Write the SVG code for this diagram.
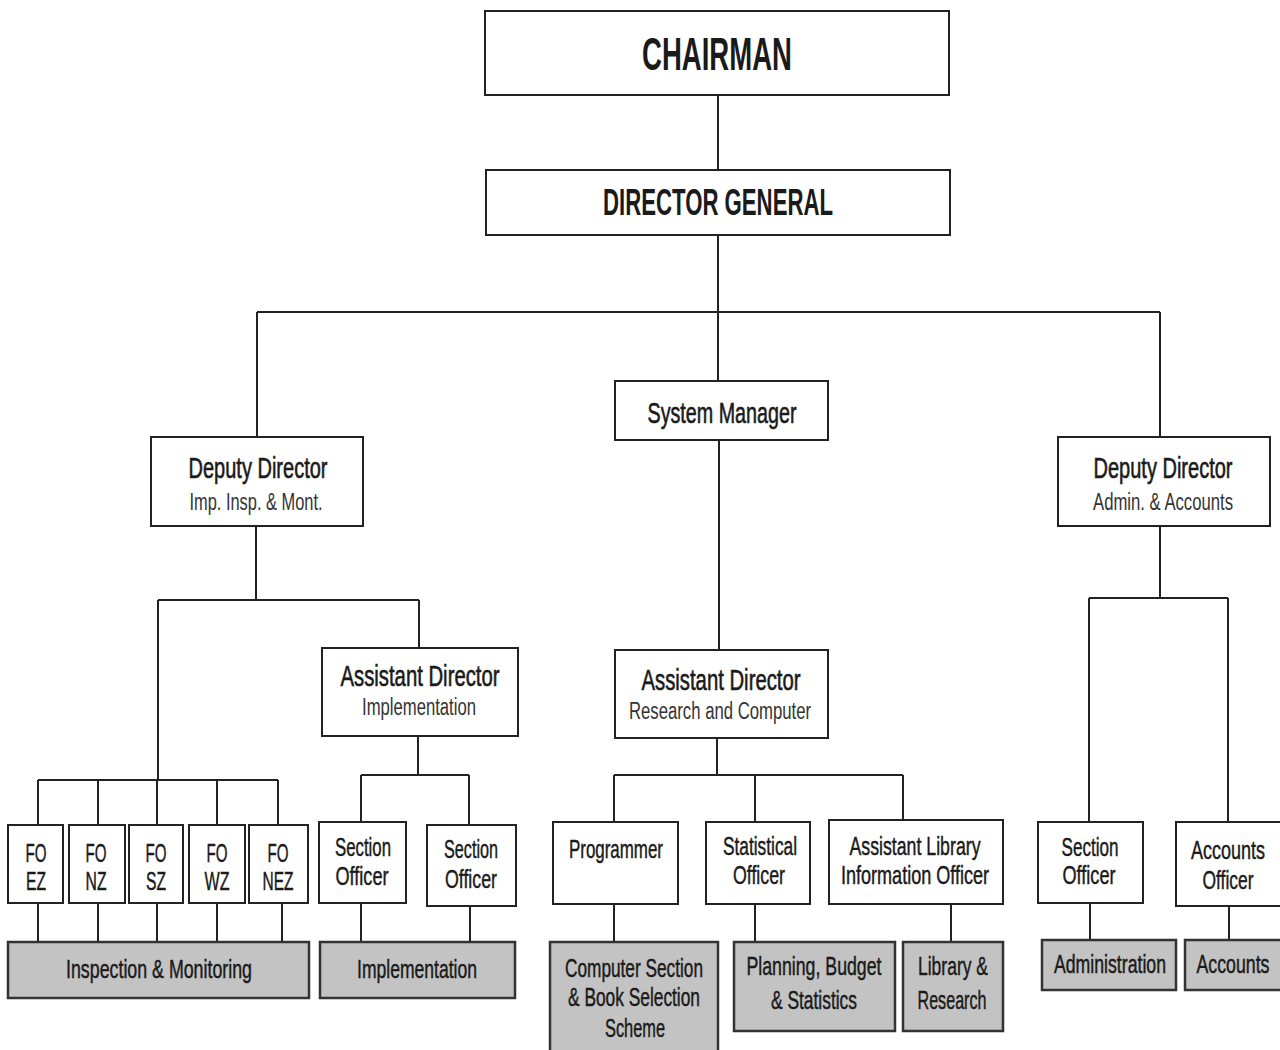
<svg xmlns="http://www.w3.org/2000/svg" width="1280" height="1050" viewBox="0 0 1280 1050">
<style>
.box{fill:#fff;stroke:#222;stroke-width:2}
.unit{fill:#c3c3c3;stroke:#333;stroke-width:2.5}
.ln{fill:none;stroke:#222;stroke-width:2}
text{font-family:"Liberation Sans Narrow","Liberation Sans",Arial,sans-serif;fill:#1a1a1a;text-anchor:middle}
.t{font-size:29px;stroke:#1a1a1a;stroke-width:0.6}
.s{font-size:23px;fill:#333}
.n{font-size:25px;stroke:#1a1a1a;stroke-width:0.45}
.b{font-weight:bold}
</style>
<rect width="1280" height="1050" fill="#fff"/>
<g id="connectors">
<path class="ln" d="M718 95V170M718 235V381M257 312H1160M257 312V437M1160 312V437"/>
<path class="ln" d="M719 440V650"/>
<path class="ln" d="M256 526V600M158 600H419M419 600V648M158 600V780"/>
<path class="ln" d="M38 780H278M38 780V825M98 780V825M157 780V825M217 780V825M278 780V825"/>
<path class="ln" d="M418 736V775M361 775H469M361 775V822M469 775V825"/>
<path class="ln" d="M38 903V942M98 903V942M157 903V942M217 903V942M282 903V942M361 903V942M470 906V942"/>
<path class="ln" d="M717 738V775M614 775H903M614 775V822M755 775V822M903 775V820"/>
<path class="ln" d="M614 904V942M755 904V942M951 904V942"/>
<path class="ln" d="M1160 526V598M1089 598H1228M1089 598V822M1228 598V822M1090 903V940M1229 906V940"/>
</g>
<g id="chairman"><rect class="box" x="485" y="11" width="464" height="84"/><text class="b" x="717" y="70" font-size="46" textLength="150" lengthAdjust="spacingAndGlyphs">CHAIRMAN</text></g>
<g id="director-general"><rect class="box" x="486" y="170" width="464" height="65"/><text class="b" x="718" y="215" font-size="36" textLength="230" lengthAdjust="spacingAndGlyphs">DIRECTOR GENERAL</text></g>
<g id="system-manager"><rect class="box" x="615" y="381" width="213" height="59"/><text class="t" x="722" y="423" textLength="149" lengthAdjust="spacingAndGlyphs">System Manager</text></g>
<g id="dd-imp"><rect class="box" x="151" y="437" width="212" height="89"/><text class="t" x="258" y="478" textLength="139" lengthAdjust="spacingAndGlyphs">Deputy Director</text><text class="s" x="256" y="510" textLength="133" lengthAdjust="spacingAndGlyphs">Imp. Insp. &amp; Mont.</text></g>
<g id="dd-admin"><rect class="box" x="1058" y="437" width="212" height="89"/><text class="t" x="1163" y="478" textLength="139" lengthAdjust="spacingAndGlyphs">Deputy Director</text><text class="s" x="1163" y="510" textLength="140" lengthAdjust="spacingAndGlyphs">Admin. &amp; Accounts</text></g>
<g id="ad-impl"><rect class="box" x="322" y="648" width="196" height="88"/><text class="t" x="420" y="686" textLength="159" lengthAdjust="spacingAndGlyphs">Assistant Director</text><text class="s" x="419" y="715" textLength="114" lengthAdjust="spacingAndGlyphs">Implementation</text></g>
<g id="ad-research"><rect class="box" x="615" y="650" width="213" height="88"/><text class="t" x="721" y="690" textLength="159" lengthAdjust="spacingAndGlyphs">Assistant Director</text><text class="s" x="720" y="719" textLength="182" lengthAdjust="spacingAndGlyphs">Research and Computer</text></g>
<g id="fo-ez"><rect class="box" x="8" y="825" width="55" height="78"/><text class="n" x="36" y="862" textLength="21" lengthAdjust="spacingAndGlyphs">FO</text><text class="n" x="36" y="890" textLength="20" lengthAdjust="spacingAndGlyphs">EZ</text></g>
<g id="fo-nz"><rect class="box" x="69" y="825" width="56" height="78"/><text class="n" x="96" y="862" textLength="21" lengthAdjust="spacingAndGlyphs">FO</text><text class="n" x="96" y="890" textLength="21" lengthAdjust="spacingAndGlyphs">NZ</text></g>
<g id="fo-sz"><rect class="box" x="129" y="825" width="54" height="78"/><text class="n" x="156" y="862" textLength="21" lengthAdjust="spacingAndGlyphs">FO</text><text class="n" x="156" y="890" textLength="20" lengthAdjust="spacingAndGlyphs">SZ</text></g>
<g id="fo-wz"><rect class="box" x="189" y="825" width="56" height="78"/><text class="n" x="217" y="862" textLength="21" lengthAdjust="spacingAndGlyphs">FO</text><text class="n" x="217" y="890" textLength="25" lengthAdjust="spacingAndGlyphs">WZ</text></g>
<g id="fo-nez"><rect class="box" x="249" y="825" width="59" height="78"/><text class="n" x="278" y="862" textLength="21" lengthAdjust="spacingAndGlyphs">FO</text><text class="n" x="278" y="890" textLength="31" lengthAdjust="spacingAndGlyphs">NEZ</text></g>
<g id="so-1"><rect class="box" x="319" y="822" width="87" height="81"/><text class="n" x="363" y="856" textLength="56" lengthAdjust="spacingAndGlyphs">Section</text><text class="n" x="362" y="885" textLength="53" lengthAdjust="spacingAndGlyphs">Officer</text></g>
<g id="so-2"><rect class="box" x="427" y="825" width="89" height="81"/><text class="n" x="471" y="858" textLength="54" lengthAdjust="spacingAndGlyphs">Section</text><text class="n" x="471" y="888" textLength="52" lengthAdjust="spacingAndGlyphs">Officer</text></g>
<g id="programmer"><rect class="box" x="553" y="822" width="125" height="82"/><text class="n" x="616" y="858" textLength="94" lengthAdjust="spacingAndGlyphs">Programmer</text></g>
<g id="stat-officer"><rect class="box" x="706" y="822" width="104" height="82"/><text class="n" x="760" y="855" textLength="74" lengthAdjust="spacingAndGlyphs">Statistical</text><text class="n" x="759" y="884" textLength="52" lengthAdjust="spacingAndGlyphs">Officer</text></g>
<g id="alio"><rect class="box" x="829" y="820" width="174" height="84"/><text class="n" x="915" y="855" textLength="131" lengthAdjust="spacingAndGlyphs">Assistant Library</text><text class="n" x="915" y="884" textLength="148" lengthAdjust="spacingAndGlyphs">Information Officer</text></g>
<g id="so-admin"><rect class="box" x="1038" y="822" width="105" height="81"/><text class="n" x="1090" y="856" textLength="57" lengthAdjust="spacingAndGlyphs">Section</text><text class="n" x="1089" y="884" textLength="53" lengthAdjust="spacingAndGlyphs">Officer</text></g>
<g id="accounts-officer"><rect class="box" x="1176" y="822" width="106" height="84"/><text class="n" x="1228" y="859" textLength="74" lengthAdjust="spacingAndGlyphs">Accounts</text><text class="n" x="1228" y="889" textLength="51" lengthAdjust="spacingAndGlyphs">Officer</text></g>
<g id="u-inspection"><rect class="unit" x="8" y="942" width="301" height="56"/><text class="n" x="159" y="978" textLength="186" lengthAdjust="spacingAndGlyphs">Inspection &amp; Monitoring</text></g>
<g id="u-implementation"><rect class="unit" x="320" y="942" width="195" height="56"/><text class="n" x="417" y="978" textLength="120" lengthAdjust="spacingAndGlyphs">Implementation</text></g>
<g id="u-computer"><rect class="unit" x="550" y="942" width="168" height="112"/><text class="n" x="634" y="977" textLength="138" lengthAdjust="spacingAndGlyphs">Computer Section</text><text class="n" x="634" y="1006" textLength="132" lengthAdjust="spacingAndGlyphs">&amp; Book Selection</text><text class="n" x="635" y="1037" textLength="60" lengthAdjust="spacingAndGlyphs">Scheme</text></g>
<g id="u-planning"><rect class="unit" x="734" y="942" width="161" height="89"/><text class="n" x="814" y="975" textLength="135" lengthAdjust="spacingAndGlyphs">Planning, Budget</text><text class="n" x="814" y="1009" textLength="86" lengthAdjust="spacingAndGlyphs">&amp; Statistics</text></g>
<g id="u-library"><rect class="unit" x="903" y="942" width="100" height="89"/><text class="n" x="953" y="975" textLength="70" lengthAdjust="spacingAndGlyphs">Library &amp;</text><text class="n" x="952" y="1009" textLength="69" lengthAdjust="spacingAndGlyphs">Research</text></g>
<g id="u-administration"><rect class="unit" x="1042" y="940" width="134" height="50"/><text class="n" x="1110" y="973" textLength="112" lengthAdjust="spacingAndGlyphs">Administration</text></g>
<g id="u-accounts"><rect class="unit" x="1185" y="940" width="97" height="50"/><text class="n" x="1233" y="973" textLength="73" lengthAdjust="spacingAndGlyphs">Accounts</text></g>
</svg>
